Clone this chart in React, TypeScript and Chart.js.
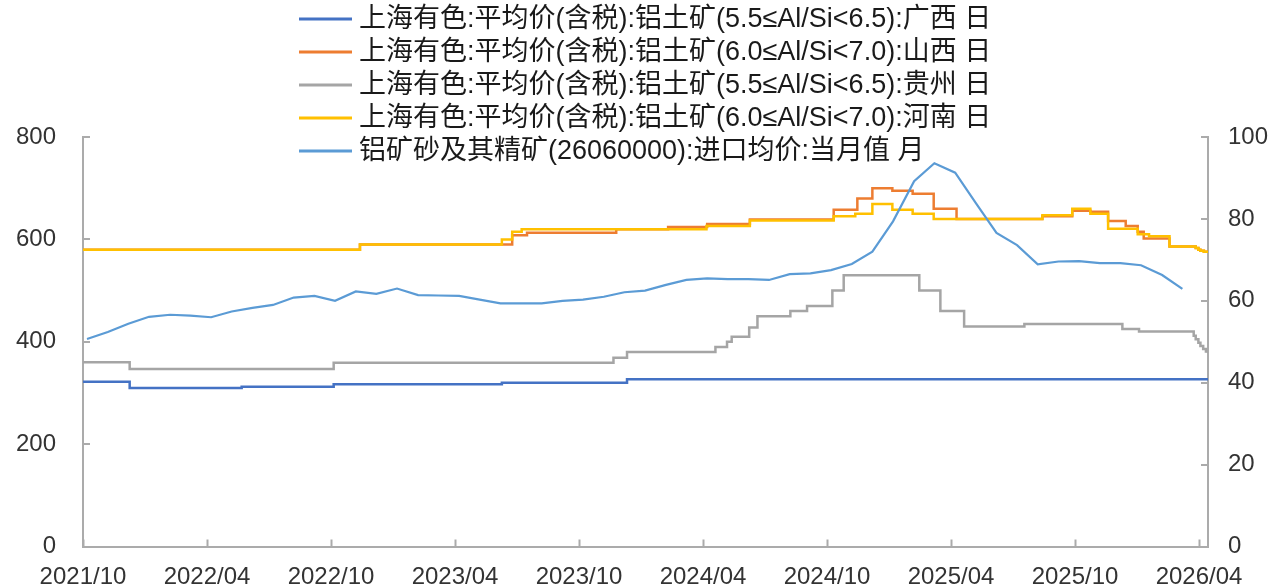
import React, { useEffect, useRef } from "react";
import { Chart, registerables } from "chart.js";

Chart.register(...registerables);

// ---------- data ----------
const SERIES_NAMES = [
  "上海有色:平均价(含税):铝土矿(5.5≤Al/Si<6.5):广西 日",
  "上海有色:平均价(含税):铝土矿(6.0≤Al/Si<7.0):山西 日",
  "上海有色:平均价(含税):铝土矿(5.5≤Al/Si<6.5):贵州 日",
  "上海有色:平均价(含税):铝土矿(6.0≤Al/Si<7.0):河南 日",
  "铝矿砂及其精矿(26060000):进口均价:当月值 月",
];

const X_TICK_LABELS = [
  "2021/10", "2022/04", "2022/10", "2023/04", "2023/10",
  "2024/04", "2024/10", "2025/04", "2025/10", "2026/04",
];
const X_START = "2021-10-01";
const X_END = "2026-04-14";

const LEFT_TICKS = [0, 200, 400, 600, 800];
const RIGHT_TICKS = [0, 20, 40, 60, 80, 100];

// 广西 (daily, change points)
const GX_DATES = ["2021-10-01", "2021-12-09", "2022-05-22", "2022-10-05", "2023-06-09", "2023-12-11", "2026-04-14"];
const GX_VALUES = [322, 310, 312, 317, 320, 327, 327];

// 山西
const SX_DATES = [
  "2021-10-01", "2022-11-13", "2023-06-24", "2023-07-16", "2023-11-25", "2024-02-10", "2024-04-07",
  "2024-06-09", "2024-10-11", "2024-11-15", "2024-12-07", "2025-01-06", "2025-02-05", "2025-03-06",
  "2025-04-09", "2025-08-14", "2025-09-27", "2025-10-24", "2025-11-19", "2025-12-15", "2026-01-02",
  "2026-01-11", "2026-02-17", "2026-03-27", "2026-03-31", "2026-04-03", "2026-04-08", "2026-04-14",
];
const SX_VALUES = [
  580, 590, 608, 613, 620, 624, 630,
  639, 658, 680, 700, 695, 689, 660,
  640, 645, 656, 654, 636, 626, 615,
  602, 586, 583, 580, 578, 576, 574,
];

// 贵州
const GZ_DATES = [
  "2021-10-01", "2021-12-09", "2022-10-05", "2023-11-21", "2023-12-11", "2024-04-19", "2024-05-06",
  "2024-05-13", "2024-06-08", "2024-06-20", "2024-08-08", "2024-09-02", "2024-10-09", "2024-10-26",
  "2025-02-14", "2025-03-16", "2025-04-20", "2025-07-18", "2025-12-10", "2026-01-04", "2026-03-24",
  "2026-03-27", "2026-03-31", "2026-04-03", "2026-04-07", "2026-04-11", "2026-04-14",
];
const GZ_VALUES = [
  360, 347, 359, 369, 380, 390, 400,
  410, 428, 450, 460, 470, 500, 530,
  500, 460, 430, 435, 425, 420, 412,
  405, 398, 392, 386, 381, 378,
];

// 河南
const HN_DATES = [
  "2021-10-01", "2022-11-13", "2023-06-09", "2023-06-24", "2023-07-08", "2024-04-06", "2024-06-09",
  "2024-10-11", "2024-11-12", "2024-12-07", "2025-01-06", "2025-02-05", "2025-03-06", "2025-08-14",
  "2025-09-27", "2025-10-24", "2025-11-19", "2026-01-02", "2026-01-19", "2026-02-17", "2026-03-27",
  "2026-03-31", "2026-04-03", "2026-04-08", "2026-04-14",
];
const HN_VALUES = [
  580, 590, 600, 615, 620, 626, 637,
  645, 650, 669, 658, 650, 640, 647,
  660, 650, 621, 610, 606, 586, 583,
  580, 578, 576, 574,
];

// 进口均价 (monthly, right axis)
const IMP_MONTHS = [
  "2021-10", "2021-11", "2021-12", "2022-01", "2022-02", "2022-03", "2022-04", "2022-05", "2022-06",
  "2022-07", "2022-08", "2022-09", "2022-10", "2022-11", "2022-12", "2023-01", "2023-02", "2023-03",
  "2023-04", "2023-05", "2023-06", "2023-07", "2023-08", "2023-09", "2023-10", "2023-11", "2023-12",
  "2024-01", "2024-02", "2024-03", "2024-04", "2024-05", "2024-06", "2024-07", "2024-08", "2024-09",
  "2024-10", "2024-11", "2024-12", "2025-01", "2025-02", "2025-03", "2025-04", "2025-05", "2025-06",
  "2025-07", "2025-08", "2025-09", "2025-10", "2025-11", "2025-12", "2026-01", "2026-02", "2026-03",
];
const IMP_VALUES = [
  50.7, 52.4, 54.4, 56.1, 56.6, 56.4, 56.0, 57.4, 58.3,
  59.0, 60.8, 61.2, 60.0, 62.3, 61.7, 63.0, 61.4, 61.3,
  61.2, 60.3, 59.4, 59.4, 59.4, 60.0, 60.3, 61.0, 62.1,
  62.5, 63.9, 65.1, 65.5, 65.3, 65.3, 65.1, 66.5, 66.7,
  67.5, 69.0, 72.0, 79.4, 89.2, 93.6, 91.3, 83.9, 76.6,
  73.6, 68.9, 69.6, 69.7, 69.2, 69.2, 68.7, 66.3, 62.9,
];

// ---------- styling ----------
const COLORS = ["#4472C4", "#ED7D31", "#A5A5A5", "#FFC000", "#5B9BD5"];
const AXIS_COLOR = "#ABABAB";
const TEXT_COLOR = "#333333";
const TICK_FONT = { family: "'Liberation Sans', Arial, sans-serif", size: 24 };
const LEGEND_FONT = "27px 'Liberation Sans', 'Noto Sans CJK SC', sans-serif";

function toMonths(date: string): number {
  const parts = date.split("-").map(Number);
  const y = parts[0];
  const m = parts[1];
  const d = parts[2] || 1;
  const dim = new Date(y, m, 0).getDate();
  return (y - 2021) * 12 + (m - 10) + (d - 1) / dim;
}

const X_TICK_POS = X_TICK_LABELS.map((l) => toMonths(l.replace("/", "-")));

function series(dates: string[], values: number[]) {
  return dates.map((d, i) => ({ x: toMonths(d), y: values[i] }));
}

const insideTicks = {
  id: "insideTicks",
  afterDatasetsDraw(chart: any) {
    const { ctx, chartArea } = chart;
    const { left, right, bottom } = chartArea;
    const len = 7;
    ctx.save();
    ctx.strokeStyle = AXIS_COLOR;
    ctx.lineWidth = 2;
    ctx.beginPath();
    const xs = chart.scales.x;
    xs.ticks.forEach((t: any) => {
      const px = Math.round(xs.getPixelForValue(t.value)) + 0.5;
      ctx.moveTo(px, bottom);
      ctx.lineTo(px, bottom - len);
    });
    const ys = chart.scales.y;
    ys.ticks.forEach((t: any) => {
      const py = Math.round(ys.getPixelForValue(t.value));
      ctx.moveTo(left, py);
      ctx.lineTo(left + len, py);
    });
    const y1 = chart.scales.y1;
    y1.ticks.forEach((t: any) => {
      const py = Math.round(y1.getPixelForValue(t.value));
      ctx.moveTo(right, py);
      ctx.lineTo(right - len, py);
    });
    ctx.stroke();
    ctx.restore();
  },
};

const overlayLegend = {
  id: "overlayLegend",
  afterDraw(chart: any) {
    const { ctx } = chart;
    const x0 = 299;
    const lineLen = 53;
    const gap = 7;
    const y0 = 19;
    const rowH = 33;
    ctx.save();
    ctx.font = LEGEND_FONT;
    ctx.textBaseline = "middle";
    ctx.textAlign = "left";
    chart.data.datasets.forEach((ds: any, i: number) => {
      const y = y0 + i * rowH;
      ctx.strokeStyle = ds.borderColor;
      ctx.lineWidth = 3;
      ctx.beginPath();
      ctx.moveTo(x0, y);
      ctx.lineTo(x0 + lineLen, y);
      ctx.stroke();
      ctx.fillStyle = "#1a1a1a";
      ctx.fillText(ds.label, x0 + lineLen + gap, y + 1);
    });
    ctx.restore();
  },
};

export default function App() {
  const ref = useRef<HTMLCanvasElement | null>(null);

  useEffect(() => {
    if (!ref.current) return;
    const lineDs = (i: number, data: any[], axis: string, order: number, stepped: boolean, width: number) => ({
      label: SERIES_NAMES[i],
      data,
      yAxisID: axis,
      borderColor: COLORS[i],
      backgroundColor: COLORS[i],
      borderWidth: width,
      pointRadius: 0,
      pointHoverRadius: 0,
      tension: 0,
      stepped,
      fill: false,
      order,
    });

    const chart = new Chart(ref.current, {
      type: "line",
      data: {
        datasets: [
          lineDs(0, series(GX_DATES, GX_VALUES), "y", 4, true, 2.5),
          lineDs(1, series(SX_DATES, SX_VALUES), "y", 3, true, 2.5),
          lineDs(2, series(GZ_DATES, GZ_VALUES), "y", 2, true, 2.5),
          lineDs(3, series(HN_DATES, HN_VALUES), "y", 1, true, 2.5),
          lineDs(4, IMP_MONTHS.map((m, i) => ({ x: toMonths(m + "-07"), y: IMP_VALUES[i] })), "y1", 0, false, 2.2),
        ],
      },
      options: {
        responsive: false,
        animation: false,
        devicePixelRatio: 1,
        layout: { padding: { top: 137, left: 0, right: 0, bottom: 0 } },
        plugins: {
          legend: { display: false },
          tooltip: { enabled: false },
          title: { display: false },
        },
        scales: {
          x: {
            type: "linear",
            min: toMonths(X_START),
            max: toMonths(X_END),
            grid: { display: false, drawTicks: false },
            border: { display: true, color: AXIS_COLOR, width: 2 },
            afterBuildTicks: (s: any) => {
              s.ticks = X_TICK_POS.map((v) => ({ value: v }));
            },
            afterFit: (s: any) => {
              s.height = 39;
            },
            ticks: {
              autoSkip: false,
              maxRotation: 0,
              minRotation: 0,
              padding: 16,
              color: TEXT_COLOR,
              font: TICK_FONT,
              callback: (_v: any, i: number) => X_TICK_LABELS[i],
            },
          },
          y: {
            type: "linear",
            position: "left",
            min: LEFT_TICKS[0],
            max: LEFT_TICKS[LEFT_TICKS.length - 1],
            grid: { display: false, drawTicks: false },
            border: { display: true, color: AXIS_COLOR, width: 2 },
            afterFit: (s: any) => {
              s.width = 83;
            },
            ticks: {
              stepSize: LEFT_TICKS[1] - LEFT_TICKS[0],
              padding: 27,
              color: TEXT_COLOR,
              font: TICK_FONT,
            },
          },
          y1: {
            type: "linear",
            position: "right",
            min: RIGHT_TICKS[0],
            max: RIGHT_TICKS[RIGHT_TICKS.length - 1],
            grid: { display: false, drawTicks: false },
            border: { display: true, color: AXIS_COLOR, width: 2 },
            afterFit: (s: any) => {
              s.width = 78;
            },
            ticks: {
              stepSize: RIGHT_TICKS[1] - RIGHT_TICKS[0],
              padding: 20,
              color: TEXT_COLOR,
              font: TICK_FONT,
            },
          },
        },
      },
      plugins: [insideTicks, overlayLegend],
    } as any);

    return () => chart.destroy();
  }, []);

  return (
    <div style={{ position: "absolute", left: 0, top: 0, width: 1286, height: 588, background: "#fff" }}>
      <canvas ref={ref} width={1286} height={588} style={{ width: 1286, height: 588, display: "block" }} />
    </div>
  );
}
